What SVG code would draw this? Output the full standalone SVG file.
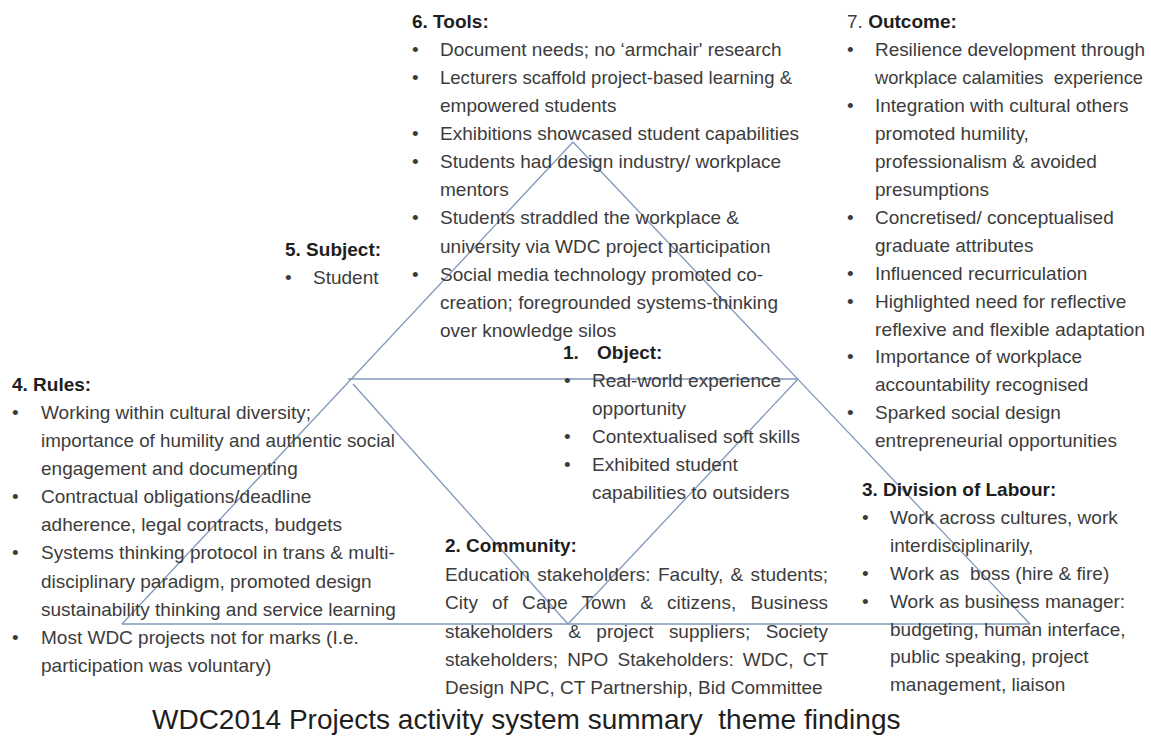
<svg xmlns="http://www.w3.org/2000/svg" width="1151" height="745" viewBox="0 0 1151 745">
  <style>
    text { font-family: "Liberation Sans", Arial, sans-serif; font-size: 19px; fill: #3c3c3c; }
    .h { font-weight: bold; fill: #1e1e1e; }
    .title { font-size: 28px; fill: #1e1e1e; }
    .edge { stroke: #8097bb; stroke-width: 1.3; fill: none; }
  </style>
  <rect width="1151" height="745" fill="#ffffff"/>

  <!-- activity triangle -->
  <g id="connectors">
    <line class="edge" x1="573" y1="142" x2="122" y2="624"/>
    <line class="edge" x1="573" y1="142" x2="1030" y2="624"/>
    <line class="edge" x1="122" y1="624" x2="1030" y2="624"/>
    <line class="edge" x1="348" y1="379" x2="798" y2="379"/>
    <line class="edge" x1="353" y1="384" x2="568" y2="624"/>
    <line class="edge" x1="568" y1="624" x2="798" y2="379"/>
  </g>

  <!-- 6. Tools -->
  <g id="tools">
    <text class="h" x="412" y="28">6. Tools:</text>
    <text x="412" y="56">•</text><text x="440" y="56">Document needs; no ‘armchair' research</text>
    <text x="412" y="84">•</text><text x="440" y="84" textLength="352" lengthAdjust="spacingAndGlyphs">Lecturers scaffold project-based learning &amp;</text>
    <text x="440" y="112">empowered students</text>
    <text x="412" y="140">•</text><text x="440" y="140">Exhibitions showcased student capabilities</text>
    <text x="412" y="168">•</text><text x="440" y="168">Students had design industry/ workplace</text>
    <text x="440" y="196">mentors</text>
    <text x="412" y="224">•</text><text x="440" y="224">Students straddled the workplace &amp;</text>
    <text x="440" y="253">university via WDC project participation</text>
    <text x="412" y="281">•</text><text x="440" y="281">Social media technology promoted co-</text>
    <text x="440" y="309">creation; foregrounded systems-thinking</text>
    <text x="440" y="337">over knowledge silos</text>
  </g>

  <!-- 7. Outcome -->
  <g id="outcome">
    <text x="847" y="28">7. <tspan class="h">Outcome:</tspan></text>
    <text x="847" y="56">•</text><text x="875" y="56" textLength="270" lengthAdjust="spacingAndGlyphs">Resilience development through</text>
    <text x="875" y="84" style="font-size:17.8px" textLength="268" lengthAdjust="spacingAndGlyphs">workplace calamities&#160; experience</text>
    <text x="847" y="112">•</text><text x="875" y="112">Integration with cultural others</text>
    <text x="875" y="140">promoted humility,</text>
    <text x="875" y="168">professionalism &amp; avoided</text>
    <text x="875" y="196">presumptions</text>
    <text x="847" y="224">•</text><text x="875" y="224">Concretised/ conceptualised</text>
    <text x="875" y="252">graduate attributes</text>
    <text x="847" y="280">•</text><text x="875" y="280">Influenced recurriculation</text>
    <text x="847" y="308">•</text><text x="875" y="308">Highlighted need for reflective</text>
    <text x="875" y="336" textLength="270" lengthAdjust="spacingAndGlyphs">reflexive and flexible adaptation</text>
    <text x="847" y="363">•</text><text x="875" y="363">Importance of workplace</text>
    <text x="875" y="391">accountability recognised</text>
    <text x="847" y="419">•</text><text x="875" y="419">Sparked social design</text>
    <text x="875" y="447">entrepreneurial opportunities</text>
  </g>

  <!-- 5. Subject -->
  <g id="subject">
    <text class="h" x="285" y="256">5. Subject:</text>
    <text x="285" y="284">•</text><text x="313" y="284">Student</text>
  </g>

  <!-- 1. Object -->
  <g id="object">
    <text class="h" x="563" y="359">1.</text><text class="h" x="597" y="359">Object:</text>
    <text x="564" y="387">•</text><text x="592" y="387">Real-world experience</text>
    <text x="592" y="415">opportunity</text>
    <text x="564" y="443">•</text><text x="592" y="443">Contextualised soft skills</text>
    <text x="564" y="471">•</text><text x="592" y="471">Exhibited student</text>
    <text x="592" y="499">capabilities to outsiders</text>
  </g>

  <!-- 4. Rules -->
  <g id="rules">
    <text class="h" x="12" y="391">4. Rules:</text>
    <text x="12" y="419">•</text><text x="41" y="419">Working within cultural diversity;</text>
    <text x="41" y="447" textLength="354" lengthAdjust="spacingAndGlyphs">importance of humility and authentic social</text>
    <text x="41" y="475">engagement and documenting</text>
    <text x="12" y="503">•</text><text x="41" y="503">Contractual obligations/deadline</text>
    <text x="41" y="531">adherence, legal contracts, budgets</text>
    <text x="12" y="559">•</text><text x="41" y="559">Systems thinking protocol in trans &amp; multi-</text>
    <text x="41" y="588">disciplinary paradigm, promoted design</text>
    <text x="41" y="616">sustainability thinking and service learning</text>
    <text x="12" y="644">•</text><text x="41" y="644">Most WDC projects not for marks (I.e.</text>
    <text x="41" y="672">participation was voluntary)</text>
  </g>

  <!-- 2. Community (justified paragraph) -->
  <g id="community">
    <text class="h" x="445" y="552">2. Community:</text>
    <text x="445" y="581" word-spacing="2" textLength="383" lengthAdjust="spacing">Education stakeholders: Faculty, &amp; students;</text>
    <text x="445" y="609" word-spacing="8.7" textLength="383" lengthAdjust="spacing">City of Cape Town &amp; citizens, Business</text>
    <text x="445" y="638" word-spacing="10.2" textLength="383" lengthAdjust="spacing">stakeholders &amp; project suppliers; Society</text>
    <text x="445" y="666" word-spacing="3.9" textLength="383" lengthAdjust="spacing">stakeholders; NPO Stakeholders: WDC, CT</text>
    <text x="445" y="694">Design NPC, CT Partnership, Bid Committee</text>
  </g>

  <!-- 3. Division of Labour -->
  <g id="division">
    <text class="h" x="862" y="496">3. Division of Labour:</text>
    <text x="862" y="524">•</text><text x="890" y="524">Work across cultures, work</text>
    <text x="890" y="552">interdisciplinarily,</text>
    <text x="862" y="580">•</text><text x="890" y="580">Work as&#160; boss (hire &amp; fire)</text>
    <text x="862" y="608">•</text><text x="890" y="608">Work as business manager:</text>
    <text x="890" y="636">budgeting, human interface,</text>
    <text x="890" y="663">public speaking, project</text>
    <text x="890" y="691">management, liaison</text>
  </g>

  <!-- caption -->
  <g id="caption">
    <text class="title" x="152" y="729">WDC2014 Projects activity system summary&#160; theme findings</text>
  </g>
</svg>
